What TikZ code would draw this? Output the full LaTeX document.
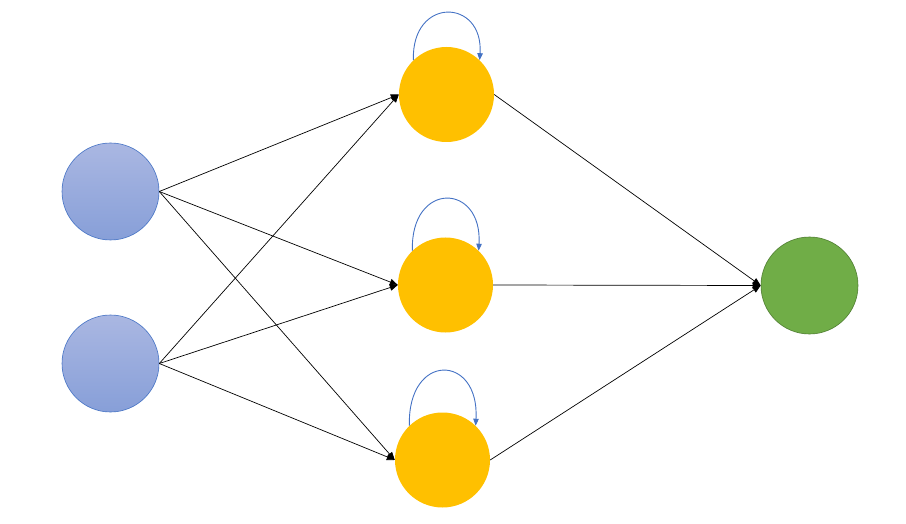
\documentclass[tikz,border=0pt]{standalone}
\usetikzlibrary{arrows.meta}
\definecolor{inbord}{HTML}{4472C4}
\definecolor{intop}{HTML}{AAB7E2}
\definecolor{inbot}{HTML}{879FD8}
\definecolor{hidfill}{HTML}{FFC000}
\definecolor{outfill}{HTML}{70AD47}
\definecolor{outbord}{HTML}{507E32}
\definecolor{loopc}{HTML}{4472C4}
\tikzset{
  inneuron/.style={circle, minimum size=97pt, inner sep=0pt, draw=inbord, line width=0.6pt, top color=intop, bottom color=inbot},
  hidneuron/.style={circle, minimum size=95pt, inner sep=0pt, fill=hidfill},
  outneuron/.style={circle, minimum size=97pt, inner sep=0pt, draw=outbord, line width=0.6pt, fill=outfill},
  conn/.style={draw=black, line width=0.7pt, -{Triangle[length=8pt,width=6.5pt]}},
  selfloop/.style={draw=loopc, line width=0.9pt, -{Triangle[length=7pt,width=5.5pt]}}
}
\begin{document}
\begin{tikzpicture}[x=1pt,y=-1pt]
\useasboundingbox (0,0) rectangle (906,524);
\node[inneuron] (i1) at (110.5,191.5) {};
\node[inneuron] (i2) at (110.5,363.5) {};
\node[hidneuron] (h1) at (446.5,94.5) {};
\node[hidneuron] (h2) at (445.5,285) {};
\node[hidneuron] (h3) at (442.5,460) {};
\node[outneuron] (o) at (809.5,285.5) {};
\foreach \s in {i1,i2}{
  \foreach \t in {h1,h2,h3}{
    \draw[conn] (\s.east) -- (\t.west);
  }
}
\foreach \t in {h1,h2,h3}{
  \draw[conn] (\t.east) -- (o.west);
}
\draw[selfloop] (h1.134) .. controls +(-2,-64) and +(4,-62) .. (h1.46);
\draw[selfloop] (h2.134) .. controls +(-2,-70) and +(4,-68) .. (h2.46);
\draw[selfloop] (h3.134) .. controls +(-2,-74) and +(4,-72) .. (h3.46);
\end{tikzpicture}
\end{document}
